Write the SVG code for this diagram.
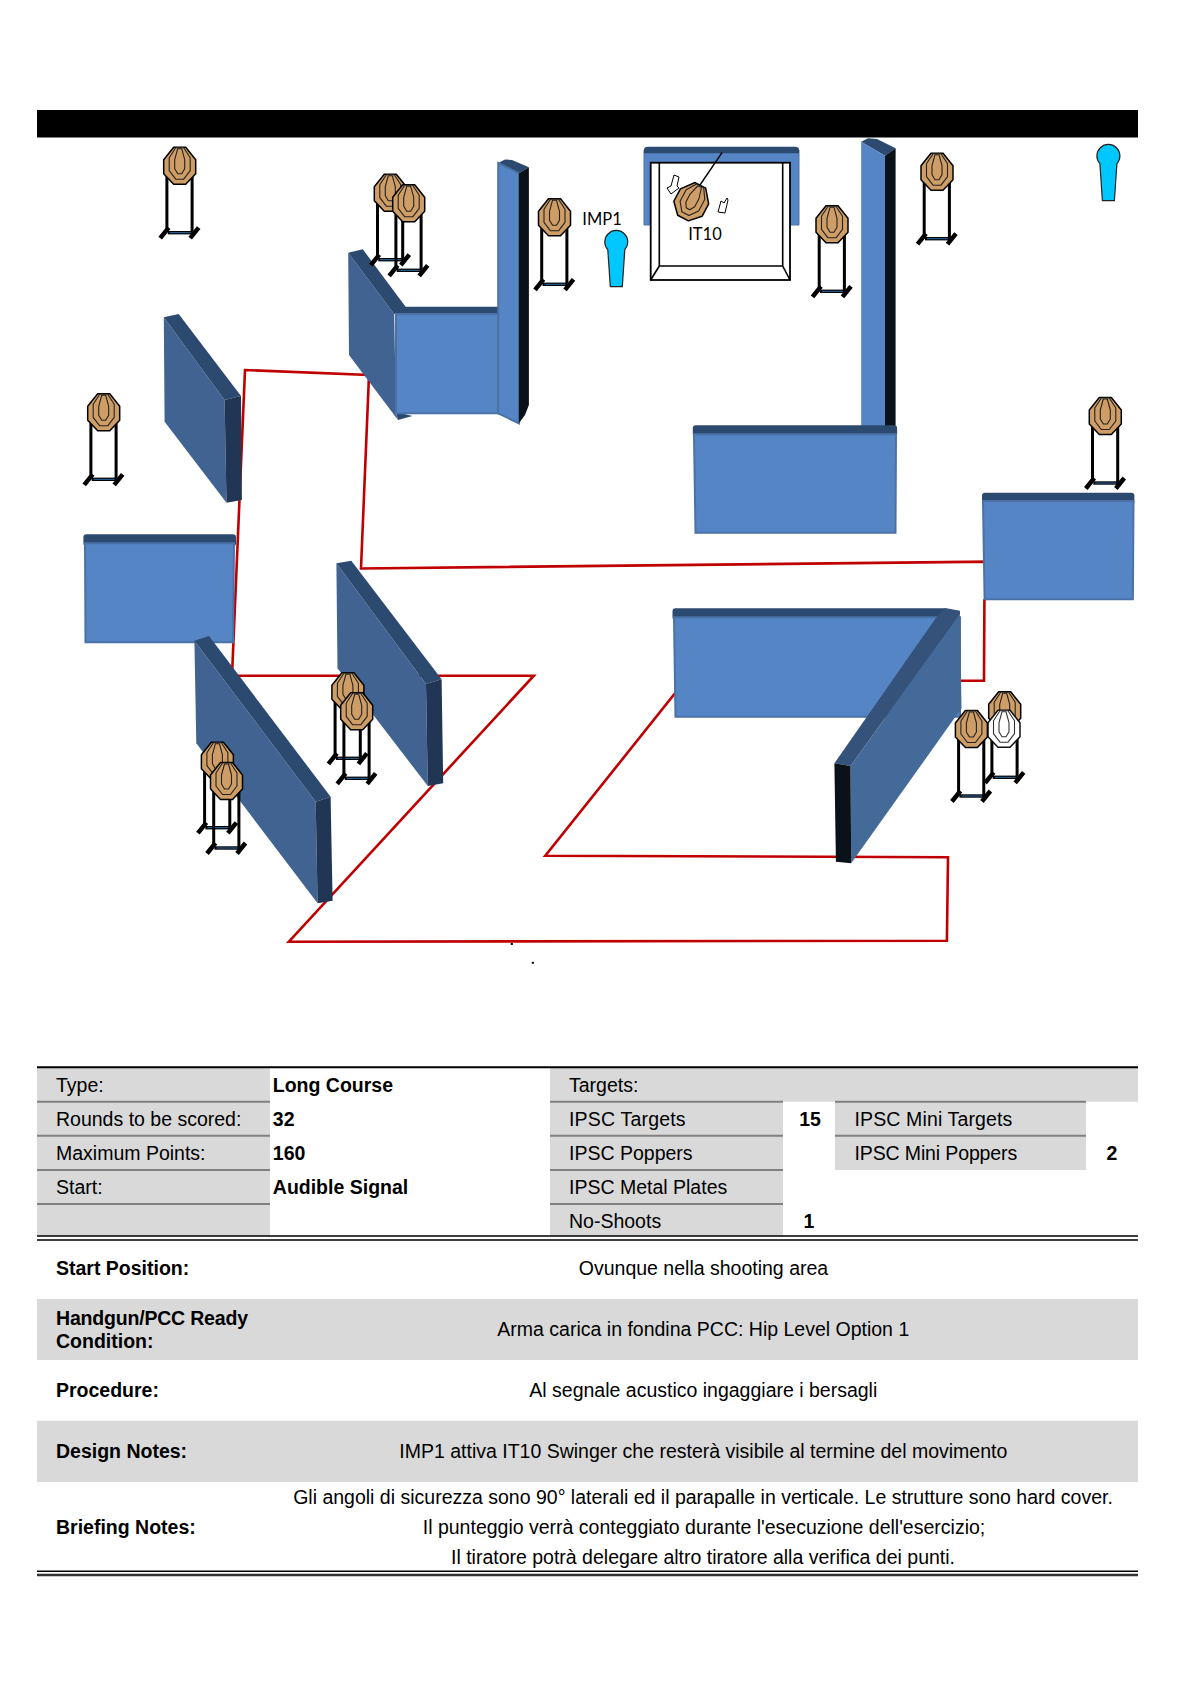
<svg xmlns="http://www.w3.org/2000/svg" xmlns:xlink="http://www.w3.org/1999/xlink" width="1191" height="1684" viewBox="0 0 1191 1684">
<style>
.face{fill:#5585C5;stroke:#4A72A6;stroke-width:2}
.top{fill:#2C4A70}
.side{fill:#406392}
.sideb{fill:#446A99}
.dark{fill:#203654}
.blk{fill:#0B1118}
.oct{fill:#CF9D66;stroke:#000;stroke-width:1.5;stroke-linejoin:round}
.in{fill:#CF9D66;stroke:#222;stroke-width:1.1;stroke-linejoin:round}
.ns{fill:#fff;stroke:#111;stroke-width:1.5;stroke-linejoin:round}
.nsi{fill:#fff;stroke:#333;stroke-width:1.1;stroke-linejoin:round}
.leg{fill:none;stroke:#000;stroke-width:3}
.foot{fill:none;stroke:#000;stroke-width:4.5}
.bar{fill:none;stroke:#000;stroke-width:3.4}
.barb{fill:none;stroke:#2E6FA8;stroke-width:1}
.lbl{font-family:"Lato","Open Sans",sans-serif;font-size:16.5px;fill:#000}
text.t{font-family:"Liberation Sans",Arial,sans-serif;font-size:19.5px;fill:#000}
text.b{font-weight:bold}
text.c{text-anchor:middle}
.g{fill:#D9D9D9}
.sep{stroke:#808080;stroke-width:2;fill:none}
.rl{stroke:#000;fill:none}
.pop{fill:#00C8FF;stroke:#222;stroke-width:1.2}
</style>
<defs>
<g id="face">
<polygon class="oct" points="-6,-18.5 6,-18.5 16,-6 16,8 6,18.5 -6,18.5 -16,8 -16,-6"/>
<polygon class="in" points="-4,-18 4,-18 10.5,-8 10.5,5 4,13.5 -4,13.5 -10.5,5 -10.5,-8"/>
<polygon class="in" points="-2,-17 2,-17 5,-6 5,3 2,8 -2,8 -5,3 -5,-6"/>
</g>
<g id="nsface">
<polygon class="ns" points="-6,-18.5 6,-18.5 16,-6 16,8 6,18.5 -6,18.5 -16,8 -16,-6"/>
<polygon class="nsi" points="-4,-18 4,-18 10.5,-8 10.5,5 4,13.5 -4,13.5 -10.5,5 -10.5,-8"/>
<polygon class="nsi" points="-2,-17 2,-17 5,-6 5,3 2,8 -2,8 -5,3 -5,-6"/>
</g>
<g id="stand">
<path class="leg" d="M-12.8,5V66M12.4,5V66"/>
<path class="bar" d="M-12,67H13"/>
<path class="barb" d="M-10,67H11"/>
<path class="foot" d="M-11,62L-19.5,72.5M19,62L10.5,72.5"/>
</g>
<g id="target"><use xlink:href="#stand"/><use xlink:href="#face"/></g>
<g id="popper">
<path class="pop" d="M-8.5,8 A11.5,11.5 0 1 1 8.5,8 L6,45 H-6 Z"/>
</g>
</defs>
<rect width="1191" height="1684" fill="#fff"/>
<rect id="backstop" x="37" y="110" width="1101" height="27.5" fill="#000"/>

<g id="connectors">
<path id="fault-line" fill="none" stroke="#C00000" stroke-width="2.6" d="M245,370L369,375L361,568.5L990,561.6L990,595L984.4,600L984,680.7L961,680.7L675,693.3L545.3,855.7L948,857.3L946.9,940.7L288.9,941.7L533.8,675.7L232,675.7Z"/>
</g>

<g id="wall-back-center">
<polygon class="top" points="861.2,141.7 868,138.3 877,139 895.6,148.3 885,155.7"/>
<polygon class="face" style="stroke:none" points="861.2,141.7 885,155.7 885,430 861.2,430"/>
<polygon class="blk" points="885,155.7 895.6,148.3 895.6,430 885,430"/>
</g>
<g id="wall-w1">
<polygon class="top" points="498.2,163 505,159.5 512,160 528.9,167.3 518.9,173.3"/>
<polygon class="side" points="348.2,252.7 394.2,314 396,412.7 398,420 349,355"/>
<polygon class="top" points="348.2,252.7 362.8,249.3 405.6,306.7 498.2,306.7 498.2,314 394.2,314"/>
<polygon class="top" points="396,412 412.5,416 398,420"/>
<rect class="face" x="396" y="314" width="102.2" height="99.3"/>
<polygon class="face" points="498.2,163 518.9,173.3 518.9,423.3 498.2,413.3"/>
<polygon class="blk" points="518.9,173.3 528.9,167.3 528.9,405 525,415 518.9,423.3"/>
</g>
<g id="wall-w3">
<polygon class="side" points="163.8,317.3 224.6,400 226.5,502.7 164.6,421.7"/>
<polygon class="top" points="163.8,317.3 178.7,314 241,396 224.6,400"/>
<polygon class="dark" points="224.6,400 241,396 241.9,500 226.5,502.7"/>
</g>
<g id="wall-w4">
<rect class="top" x="83.4" y="534.3" width="152.6" height="12" rx="3"/>
<polygon class="face" points="85,543.3 234,543.3 233,642.3 85.5,642.3"/>
</g>
<g id="wall-w5">
<polygon class="side" points="194.4,640.7 315.7,801.7 317.6,903.3 196.3,743.3"/>
<polygon class="top" points="194.4,640.7 209,636 330.6,796.7 315.7,801.7"/>
<polygon class="dark" points="315.7,801.7 330.6,796.7 332.6,900.7 317.6,903.3"/>
</g>
<g id="wall-w6">
<polygon class="side" points="336.4,563.3 426,684 427.8,786 337.5,668.3"/>
<polygon class="top" points="336.4,563.3 351.3,560.7 441.6,679.3 426,684"/>
<polygon class="dark" points="426,684 441.6,679.3 443.2,783.3 427.8,786"/>
</g>
<g id="wall-w7">
<rect class="top" x="692.8" y="425.3" width="204.3" height="12" rx="3"/>
<polygon class="face" points="694,434.3 896,434.3 895.5,532.7 695.5,532.7"/>
</g>
<g id="wall-w9">
<rect class="top" x="982" y="492.7" width="152.4" height="12" rx="3"/>
<polygon class="face" points="983,501 1133.5,501 1132.9,599.3 984.6,599.3"/>
</g>
<g id="wall-w10">
<rect class="top" x="672.5" y="608.3" width="275" height="12" rx="3"/>
<polygon class="face" points="674,617.3 960,617.3 960,716.7 675.5,716.7"/>
<polygon class="sideb" points="960,614 961.5,708.3 851.2,863.3 850.5,766"/>
<polygon fill="#34527A" points="937.3,616 945,608 960,610.7 960,614 850.5,766 834.4,763.3"/>
<polygon class="blk" points="834.4,763.3 850.5,766 851.2,863.3 835.9,861.7"/>
</g>

<g id="swinger-frame">
<polygon class="face" style="stroke:#4A72A6;stroke-width:1" points="644,150 799,150 799,225 644,225"/>
<path class="top" d="M644,153.3V150Q644,146.7 648,146.7H795Q799,146.7 799,150V153.3Z"/>
<rect x="650.7" y="162.7" width="139.3" height="117.3" fill="#fff" stroke="#000" stroke-width="1.8"/>
<path fill="none" stroke="#000" stroke-width="1.6" d="M659.3,162.7V266H782.7V162.7M659.3,266L650.7,280M782.7,266L790,280"/>
<path fill="none" stroke="#000" stroke-width="1.4" d="M699.3,186L722,152.7"/>
</g>

<g id="swinger-target" transform="translate(691.7,201.7) rotate(28)"><use xlink:href="#face"/></g>
<g id="swing-arrows" fill="#fff" stroke="#000" stroke-width="1">
<polygon points="674,175 679,177 677,186 679,188 671,194 667,188 671,186"/>
<polygon points="721,201 724,203 727,198 728,200 725,213 718,212"/>
</g>
<text class="lbl" x="705" y="240" text-anchor="middle">IT10</text>
<text class="lbl" x="602" y="225" text-anchor="middle">IMP1</text>

<g id="popper-1" transform="translate(616.3,241.7)"><use xlink:href="#popper"/></g>
<g id="popper-2" transform="translate(1108.4,155.7)"><use xlink:href="#popper"/></g>

<g id="target-1" transform="translate(179.7,165.7)"><use xlink:href="#target"/></g>
<g id="target-2" transform="translate(390.3,192.7)"><use xlink:href="#target"/></g>
<g id="target-3" transform="translate(408.7,203.3)"><use xlink:href="#target"/></g>
<g id="target-4" transform="translate(554.5,217.3)"><use xlink:href="#target"/></g>
<g id="target-5" transform="translate(103.7,412.3)"><use xlink:href="#target"/></g>
<g id="target-6" transform="translate(832,224.3)"><use xlink:href="#target"/></g>
<g id="target-7" transform="translate(937,171.7)"><use xlink:href="#target"/></g>
<g id="target-8" transform="translate(1105.3,416)"><use xlink:href="#target"/></g>
<g id="target-9" transform="translate(347.9,691.3)"><use xlink:href="#target"/></g>
<g id="target-10" transform="translate(356.7,711.3)"><use xlink:href="#target"/></g>
<g id="target-11" transform="translate(217.4,760.7)"><use xlink:href="#target"/></g>
<g id="target-12" transform="translate(226.5,781)"><use xlink:href="#target"/></g>
<g id="target-13" transform="translate(1004.7,710.3)"><use xlink:href="#target"/></g>
<g id="no-shoot" transform="translate(1004,728.7)"><use xlink:href="#nsface"/></g>
<g id="target-14" transform="translate(971.4,729)"><use xlink:href="#target"/></g>

<rect id="dot-1" x="510.8" y="943" width="2" height="2" fill="#000"/>
<rect id="dot-2" x="531.8" y="961.8" width="2" height="2" fill="#000"/>

<g id="info-table">
<rect class="g" x="37" y="1068" width="233" height="168"/>
<rect class="g" x="550" y="1068" width="588" height="33.7"/>
<rect class="g" x="550" y="1101.7" width="233" height="134.3"/>
<rect class="g" x="835" y="1101.7" width="251" height="68.3"/>
<path class="sep" d="M37,1101.7H270M37,1135.7H270M37,1170H270M37,1204H270M550,1101.7H783M550,1135.7H783M550,1170H783M550,1204H783M835,1101.7H1086M835,1135.7H1086"/>
<path class="rl" stroke-width="2" d="M37,1067.3H1138"/>
<path class="rl" stroke-width="1.6" d="M37,1236H1138M37,1240H1138"/>
<text class="t" x="56" y="1092">Type:</text>
<text class="t" x="56" y="1125.8">Rounds to be scored:</text>
<text class="t" x="56" y="1160">Maximum Points:</text>
<text class="t" x="56" y="1194">Start:</text>
<text class="t b" x="272.8" y="1092">Long Course</text>
<text class="t b" x="272.8" y="1125.8">32</text>
<text class="t b" x="272.8" y="1160">160</text>
<text class="t b" x="272.8" y="1194">Audible Signal</text>
<text class="t" x="569" y="1092">Targets:</text>
<text class="t" x="569" y="1125.8" letter-spacing=".19">IPSC Targets</text>
<text class="t" x="569" y="1160">IPSC Poppers</text>
<text class="t" x="569" y="1194">IPSC Metal Plates</text>
<text class="t" x="569" y="1227.8">No-Shoots</text>
<text class="t b c" x="810" y="1125.8">15</text>
<text class="t b c" x="809" y="1227.8">1</text>
<text class="t" x="854.5" y="1125.8" letter-spacing=".13">IPSC Mini Targets</text>
<text class="t" x="854.5" y="1160" letter-spacing="-.13">IPSC Mini Poppers</text>
<text class="t b c" x="1112" y="1160">2</text>
<rect class="g" x="37" y="1299" width="1101" height="61"/>
<rect class="g" x="37" y="1420.7" width="1101" height="61.3"/>
<text class="t b" x="56" y="1275">Start Position:</text>
<text class="t c" x="703.5" y="1275">Ovunque nella shooting area</text>
<text class="t b" x="56" y="1325" letter-spacing="-.19">Handgun/PCC Ready</text>
<text class="t b" x="56" y="1348.3">Condition:</text>
<text class="t c" x="703.3" y="1336">Arma carica in fondina PCC: Hip Level Option 1</text>
<text class="t b" x="56" y="1397.3">Procedure:</text>
<text class="t c" x="703.3" y="1397.3">Al segnale acustico ingaggiare i bersagli</text>
<text class="t b" x="56" y="1457.7">Design Notes:</text>
<text class="t c" x="703.3" y="1457.7">IMP1 attiva IT10 Swinger che resterà visibile al termine del movimento</text>
<text class="t c" x="703" y="1503.7">Gli angoli di sicurezza sono 90° laterali ed il parapalle in verticale. Le strutture sono hard cover.</text>
<text class="t b" x="56" y="1533.5">Briefing Notes:</text>
<text class="t c" x="704" y="1534">Il punteggio verrà conteggiato durante l'esecuzione dell'esercizio;</text>
<text class="t c" x="703" y="1564">Il tiratore potrà delegare altro tiratore alla verifica dei punti.</text>
<path class="rl" stroke-width="1.6" d="M37,1571.3H1138"/>
<path stroke="#333" fill="none" stroke-width="2.4" d="M37,1575H1138"/>
</g>
</svg>
